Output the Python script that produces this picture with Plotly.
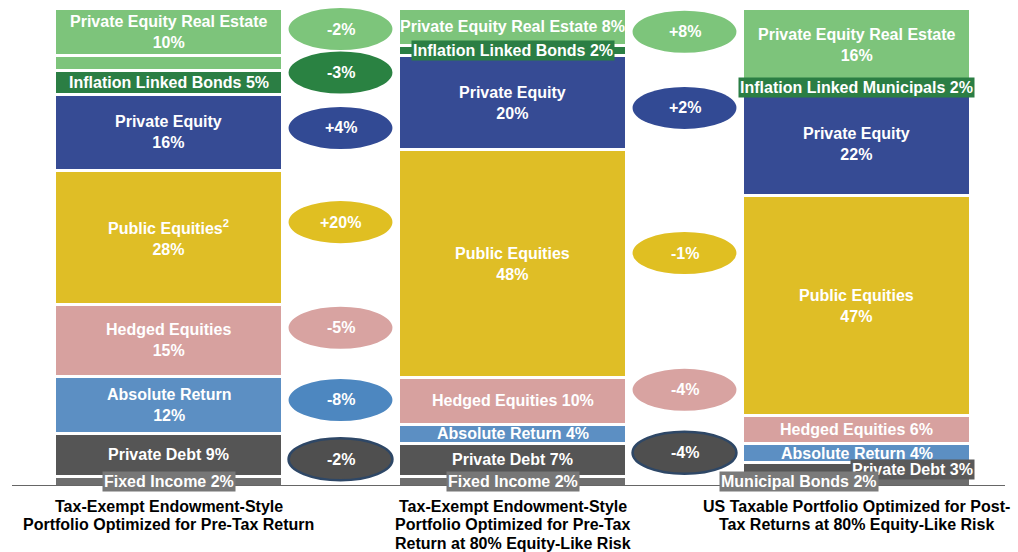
import numpy as np
import plotly.graph_objects as go

# ---------------- data ----------------
# asset classes listed top -> bottom of each stacked column
names_endow = ["Private Equity Real Estate", "Inflation Linked Bonds", "Private Equity",
               "Public Equities<sup>2</sup>", "Hedged Equities", "Absolute Return",
               "Private Debt", "Fixed Income"]
names_endow80 = ["Private Equity Real Estate", "Inflation Linked Bonds", "Private Equity",
                 "Public Equities", "Hedged Equities", "Absolute Return",
                 "Private Debt", "Fixed Income"]
names_taxable = ["Private Equity Real Estate", "Inflation Linked Municipals", "Private Equity",
                 "Public Equities", "Hedged Equities", "Absolute Return",
                 "Private Debt", "Municipal Bonds"]

endow = [10, 5, 16, 28, 15, 12, 9, 2]
endow80 = [8, 2, 20, 48, 10, 4, 7, 2]
taxable = [16, 2, 22, 47, 6, 4, 3, 2]

portfolio_titles = [
    ["Tax-Exempt Endowment-Style", "Portfolio Optimized for Pre-Tax Return"],
    ["Tax-Exempt Endowment-Style", "Portfolio Optimized for Pre-Tax", "Return at 80% Equity-Like Risk"],
    ["US Taxable Portfolio Optimized for Post-", "Tax Returns at 80% Equity-Like Risk"],
]

# ---------------- styles ----------------
colors = ["#7DC47B", "#2B7E44", "#364B94", "#DFBE26", "#D7A19F", "#5C8FC3", "#555555", "#6E6E6E"]
remainder_color = "#7DC47B"
ellipse_colors = ["#7DC57B", "#2A8242", "#324A94", "#E0BF22", "#D8A3A1", "#4D87C0", "#4F4F4F", "#6E6E6E"]
ellipse_border = {6: "#2E4766"}
# small vertical nudges (in % units) of the change ellipses
ellipse_nudge = [
    {0: 0.6, 1: 2.0, 2: 0.9, 3: 3.2, 4: 2.6, 5: 1.0, 6: -0.9},
    {0: -1.0, 2: -1.1, 3: 2.2, 4: 2.3, 6: 1.5},
]
two_line = [{0, 2, 3, 4, 5}, {2, 3}, {0, 2, 3}]
box_bg = {(0, 7): "#777777", (1, 1): "#2B7E44", (1, 7): "#777777",
          (2, 1): "#2B7E44", (2, 6): "#5A5A5A", (2, 7): "#7A7A7A"}
label_pos = {(2, 6): dict(dx=0.33, xanchor="right", xshift=5),
             (2, 7): dict(dx=-0.33, xanchor="left", xshift=-24)}
FONT = "Liberation Sans, Arial, sans-serif"
BAR_W = 0.66

cols = [endow, endow80, taxable]
names = [names_endow, names_endow80, names_taxable]
# each column fills the full 100% height: shares over 100 are rescaled,
# an unallocated remainder (col sums below 100) is drawn as a thin strip
scaled, remainders = [], []
for v in cols:
    tot = sum(v)
    scaled.append(np.array(v, dtype=float) / max(tot, 100) * 100)
    remainders.append(max(0.0, 100.0 - tot))


def segments(c):
    """top->bottom list of (key, height) including the remainder strip after item 0"""
    segs = [(0, scaled[c][0]), ("rem", remainders[c])] + [(k, scaled[c][k]) for k in range(1, 8)]
    out = {}
    y = 100.0
    for key, h in segs:
        out[key] = (y - h, y)
        y -= h
    return out


fig = go.Figure()
xs = [0, 1, 2]
for k in reversed(range(1, 8)):
    fig.add_trace(go.Bar(
        x=xs, y=[scaled[c][k] for c in range(3)], width=BAR_W,
        marker=dict(color=colors[k], line=dict(color="white", width=3)),
        hoverinfo="skip", showlegend=False))
fig.add_trace(go.Bar(
    x=xs, y=remainders, width=BAR_W,
    marker=dict(color=remainder_color, line=dict(color="white", width=3)),
    hoverinfo="skip", showlegend=False))
fig.add_trace(go.Bar(
    x=xs, y=[scaled[c][0] for c in range(3)], width=BAR_W,
    marker=dict(color=colors[0], line=dict(color="white", width=3)),
    hoverinfo="skip", showlegend=False))

annotations = []
shapes = []
for c in range(3):
    seg = segments(c)
    for k in range(8):
        lo, hi = seg[k]
        mid = (lo + hi) / 2
        v = cols[c][k]
        if k in two_line[c]:
            txt = f"<b>{names[c][k]}<br>{v}%</b>"
        else:
            txt = f"<b>{names[c][k]} {v}%</b>"
        pos = label_pos.get((c, k), dict(dx=0, xanchor="center", xshift=0))
        ann = dict(x=c + pos["dx"], y=mid, xref="x", yref="y", text=txt, showarrow=False,
                   xanchor=pos["xanchor"], yanchor="middle", xshift=pos["xshift"],
                   font=dict(family=FONT, size=16, color="white"))
        if (c, k) in box_bg:
            ann["bgcolor"] = box_bg[(c, k)]
            ann["borderpad"] = 1
        annotations.append(ann)

# change ellipses between neighbouring portfolios
EW, EH = 0.151, 4.4
for c in range(2):
    seg = segments(c)
    for k in range(8):
        d = cols[c + 1][k] - cols[c][k]
        if d == 0:
            continue
        xc = c + 0.5
        lo, hi = seg[k]
        yc = (lo + hi) / 2 + ellipse_nudge[c].get(k, 0)
        shapes.append(dict(type="circle", xref="x", yref="y",
                           x0=xc - EW, x1=xc + EW, y0=yc - EH, y1=yc + EH,
                           fillcolor=ellipse_colors[k],
                           line=dict(color=ellipse_border.get(k, ellipse_colors[k]),
                                     width=2.5 if k in ellipse_border else 0)))
        annotations.append(dict(x=xc, y=yc, xref="x", yref="y", showarrow=False,
                                text=f"<b>{d:+d}%</b>",
                                font=dict(family=FONT, size=16, color="white")))

# baseline
shapes.append(dict(type="line", xref="paper", yref="y", x0=12 / 1018, x1=1005 / 1018,
                   y0=0, y1=0, line=dict(color="#333333", width=1.5)))

# portfolio titles below
for c, lines in enumerate(portfolio_titles):
    for i, line in enumerate(lines):
        annotations.append(dict(x=c, y=0, xref="x", yref="y", showarrow=False,
                                text=f"<b>{line}</b>", yanchor="middle",
                                yshift=-20 - 18.5 * i,
                                font=dict(family=FONT, size=16, color="black")))

fig.update_layout(
    width=1018, height=552, autosize=False,
    margin=dict(l=0, r=0, t=8, b=66, pad=0),
    barmode="stack",
    paper_bgcolor="white", plot_bgcolor="white",
    xaxis=dict(range=[-168.5 / 344, (1018 - 168.5) / 344], visible=False, fixedrange=True),
    yaxis=dict(range=[0, 100], visible=False, fixedrange=True),
    annotations=annotations, shapes=shapes, showlegend=False,
)
fig.write_html("out.html")
